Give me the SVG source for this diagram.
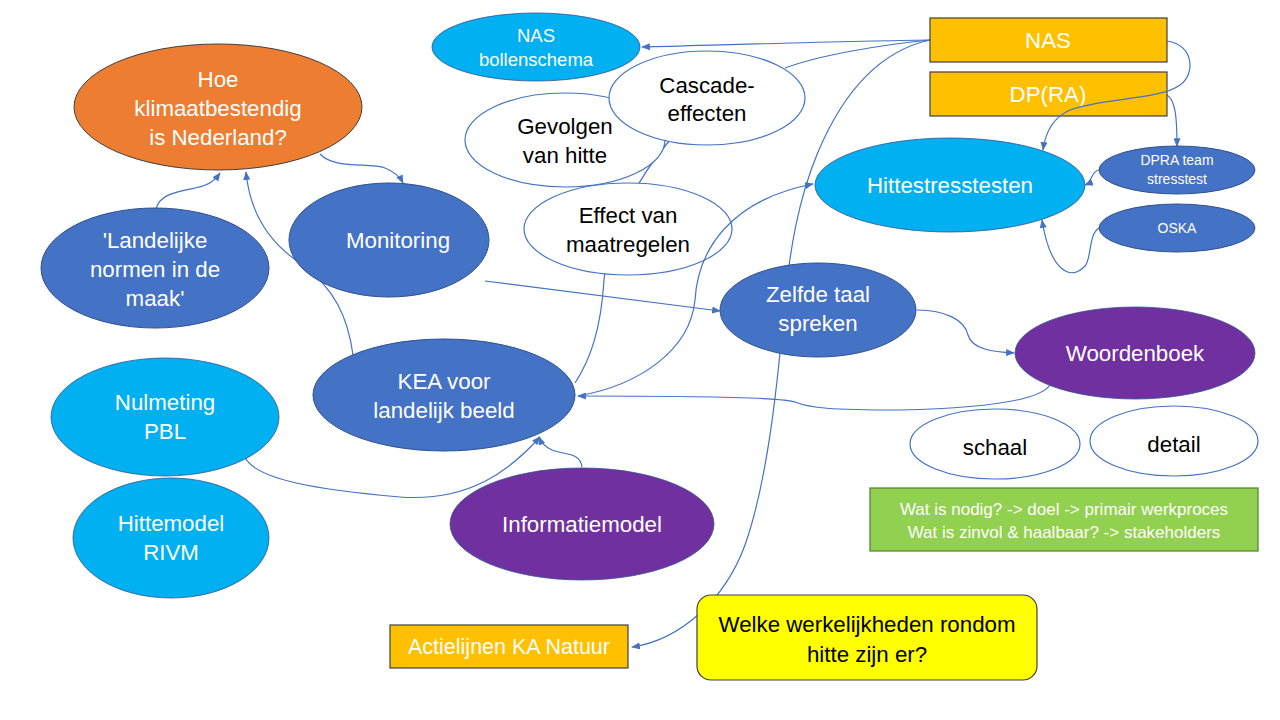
<svg xmlns="http://www.w3.org/2000/svg" width="1280" height="720" viewBox="0 0 1280 720">
<style>
text{font-family:"Liberation Sans",Arial,sans-serif;text-anchor:middle}
.w{fill:#fff}
.k{fill:#000}
.c{fill:none;stroke:#4472C4;stroke-width:1.2}
.a{marker-end:url(#arr)}
.blue{fill:#4472C4;stroke:#2F528F;stroke-width:1}
.cyan{fill:#00B0F0;stroke:#2F528F;stroke-width:0.8}
.purple{fill:#7030A0;stroke:#2F528F;stroke-width:0.8}
.white{fill:#fff;stroke:#4472C4;stroke-width:1.2}
.gold{fill:#FFC000;stroke:#404040;stroke-width:1.2}
.f21{font-size:22.3px}
.f20{font-size:22.3px}
.f17{font-size:18.5px}
.f13{font-size:14px}
</style>
<defs>
<marker id="arr" viewBox="0 0 10 8" refX="9" refY="4" markerWidth="9" markerHeight="7" markerUnits="userSpaceOnUse" orient="auto">
<path d="M0,0 L10,4 L0,8 z" fill="#4472C4"/>
</marker>
</defs>
<rect width="1280" height="720" fill="#fff"/>
<g id="connectors">
<path class="c a" d="M930,40 C850,41 720,45 642,47"/>
<path class="c" d="M930,40 C880,45 820,55 785,68"/>
<path class="c a" d="M930,40 C875,52 840,100 818,152 C798,200 790,250 785,300 C778,380 768,480 745,545 C725,600 680,640 632,647"/>
<path class="c a" d="M1167,95 C1175,100 1177,115 1177,146"/>
<path class="c a" d="M1099,170 C1090,172 1093,182 1085,185"/>
<path class="c a" d="M1099,228 C1088,235 1092,258 1085,266 C1070,282 1050,270 1042,220"/>
<path class="c a" d="M320,154 C335,170 370,162 385,168 C395,172 400,177 403,183"/>
<path class="c a" d="M156,210 C158,195 175,192 195,188 C210,185 215,180 220,173"/>
<path class="c a" d="M353,355 C348,318 335,288 300,263 C270,243 250,215 246,172"/>
<path class="c a" d="M485,281 L720,311"/>
<path class="c" d="M670,140 C640,175 608,230 604,280 C601,330 590,360 575,383"/>
<path class="c a" d="M917,310 C945,310 965,320 968,335 C972,350 995,352 1014,353"/>
<path class="c a" d="M1050,385 C1040,400 990,408 900,410 C830,410 810,408 795,402 C780,396 650,396 578,396"/>
<path class="c a" d="M245,457 C255,480 320,490 400,497 C470,502 510,470 540,437"/>
<path class="c a" d="M582,467 C580,452 565,455 552,450 C545,447 541,442 539,437"/>
</g>
<g id="n-nas-bollenschema"><ellipse class="cyan" cx="536" cy="47" rx="104" ry="34"/><text class="w f17" x="536" y="42">NAS</text><text class="w f17" x="536" y="66">bollenschema</text></g>
<g id="n-hoe"><ellipse cx="218" cy="107" rx="144" ry="63" fill="#ED7D31" stroke="#404040" stroke-width="1"/><text class="w f21" x="218" y="87">Hoe</text><text class="w f21" x="218" y="116">klimaatbestendig</text><text class="w f21" x="218" y="145">is Nederland?</text></g>
<g id="n-gevolgen"><ellipse class="white" cx="565" cy="140" rx="100" ry="47"/><text class="k f20" x="565" y="134">Gevolgen</text><text class="k f20" x="565" y="163">van hitte</text></g>
<g id="n-cascade"><ellipse class="white" cx="707" cy="98" rx="98" ry="47"/><text class="k f20" x="707" y="93">Cascade-</text><text class="k f20" x="707" y="121">effecten</text></g>
<g id="n-effect"><ellipse class="white" cx="628" cy="229" rx="104" ry="46"/><text class="k f20" x="628" y="223">Effect van</text><text class="k f20" x="628" y="252">maatregelen</text></g>
<g id="n-nas"><rect class="gold" x="930" y="18" width="237" height="44"/><text class="w f21" x="1048" y="48">NAS</text></g>
<g id="n-dpra"><rect class="gold" x="930" y="72" width="237" height="44"/><text class="w f21" x="1048" y="102">DP(RA)</text></g>
<g id="n-hittestresstesten"><ellipse class="cyan" cx="950" cy="185" rx="135" ry="47"/><text class="w f21" x="950" y="193">Hittestresstesten</text></g>
<g id="n-dpra-team"><ellipse class="blue" cx="1177" cy="170" rx="78" ry="24"/><text class="w f13" x="1177" y="165">DPRA team</text><text class="w f13" x="1177" y="184">stresstest</text></g>
<g id="n-oska"><ellipse class="blue" cx="1177" cy="228" rx="78" ry="24"/><text class="w f13" x="1177" y="233">OSKA</text></g>
<g id="n-landelijke"><ellipse class="blue" cx="155" cy="268" rx="114" ry="60"/><text class="w f20" x="155" y="248">'Landelijke</text><text class="w f20" x="155" y="277">normen in de</text><text class="w f20" x="155" y="306">maak'</text></g>
<g id="n-monitoring"><ellipse class="blue" cx="389" cy="240" rx="100" ry="57"/><text class="w f20" x="398" y="248">Monitoring</text></g>
<g id="n-zelfde"><ellipse class="blue" cx="818" cy="310" rx="98" ry="47"/><text class="w f20" x="818" y="302">Zelfde taal</text><text class="w f20" x="818" y="331">spreken</text></g>
<g id="n-woordenboek"><ellipse class="purple" cx="1135" cy="353" rx="120" ry="46"/><text class="w f20" x="1135" y="361">Woordenboek</text></g>
<g id="n-kea"><ellipse class="blue" cx="444" cy="395" rx="131" ry="56"/><text class="w f20" x="444" y="389">KEA voor</text><text class="w f20" x="444" y="418">landelijk beeld</text></g>
<g id="n-nulmeting"><ellipse class="cyan" cx="165" cy="417" rx="114" ry="59"/><text class="w f20" x="165" y="410">Nulmeting</text><text class="w f20" x="165" y="439">PBL</text></g>
<g id="n-hittemodel"><ellipse class="cyan" cx="171" cy="538" rx="98" ry="60"/><text class="w f20" x="171" y="531">Hittemodel</text><text class="w f20" x="171" y="560">RIVM</text></g>
<g id="n-informatiemodel"><ellipse class="purple" cx="582" cy="524" rx="132" ry="56"/><text class="w f20" x="582" y="532">Informatiemodel</text></g>
<g id="n-schaal"><ellipse class="white" cx="995" cy="444" rx="85" ry="35"/><text class="k f20" x="995" y="455">schaal</text></g>
<g id="n-detail"><ellipse class="white" cx="1174" cy="441" rx="84" ry="35"/><text class="k f20" x="1174" y="452">detail</text></g>
<g id="n-green"><rect x="870" y="488" width="388" height="63" fill="#92D050" stroke="#507E32" stroke-width="1.2"/><text class="w" style="font-size:17px" x="1064" y="515">Wat is nodig? -&gt; doel -&gt; primair werkproces</text><text class="w" style="font-size:17px" x="1064" y="538">Wat is zinvol &amp; haalbaar? -&gt; stakeholders</text></g>
<g id="n-actielijnen"><rect class="gold" x="390" y="625" width="238" height="43"/><text class="w" style="font-size:21.5px" x="509" y="654">Actielijnen KA Natuur</text></g>
<g id="n-welke"><rect x="697" y="595" width="340" height="85" rx="14" fill="#FFFF00" stroke="#404040" stroke-width="1.2"/><text class="k f20" x="867" y="632">Welke werkelijkheden rondom</text><text class="k f20" x="867" y="662">hitte zijn er?</text></g>
<g id="connectors-over">
<path class="c a" d="M1167,41 C1195,45 1195,75 1180,85 C1160,100 1100,98 1070,110 C1052,118 1045,135 1043,150"/>
<path class="c a" d="M578,396 C640,385 690,350 695,300 C698,250 730,200 813,184"/>
</g>
</svg>
